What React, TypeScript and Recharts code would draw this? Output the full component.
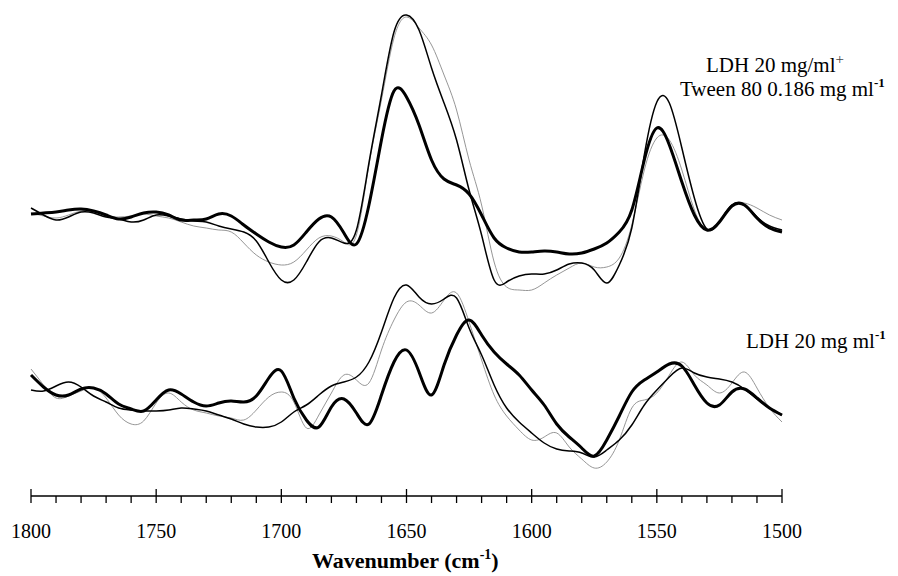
import { Line, LineChart, XAxis, YAxis } from "recharts";

// wavenumber grid (cm-1), high to low as plotted
const wavenumbers = [
  1800, 1795, 1790, 1785, 1780, 1775, 1770, 1765, 1760, 1755,
  1750, 1745, 1740, 1735, 1730, 1725, 1720, 1715, 1710, 1705,
  1700, 1695, 1690, 1685, 1680, 1675, 1670, 1665, 1660, 1655,
  1650, 1645, 1640, 1635, 1630, 1625, 1620, 1615, 1610, 1605,
  1600, 1595, 1590, 1585, 1580, 1575, 1570, 1565, 1560, 1555,
  1550, 1545, 1540, 1535, 1530, 1525, 1520, 1515, 1510, 1505,
  1500,
];

// LDH 20 mg/ml + Tween 80 0.186 mg/ml (upper stack), arbitrary units
const tweenThick = [
  1, 2, 3, 5, 6, 4, 0, -4, -2, 2,
  3, 0, -5, -5, -4, 1, -1, -10, -19, -27,
  -32, -30, -17, -4, -2, -18, -29, 10, 75, 124,
  118, 90, 55, 36, 30, 21, 0, -23, -33, -37,
  -37, -36, -37, -39, -38, -34, -28, -17, 5, 55,
  87, 70, 33, 0, -15, -7, 9, 10, -3, -13,
  -17,
];
const tweenThin = [
  7, 0, -5, -2, 3, 2, -2, -4, -7, -5,
  0, -1, -4, -6, -7, -11, -14, -17, -26, -47,
  -65, -65, -47, -27, -23, -28, -15, 52, 120, 183,
  200, 185, 147, 112, 75, 25, -20, -65, -67, -61,
  -59, -59, -55, -49, -48, -55, -68, -50, -13, 60,
  113, 112, 67, 17, -14, -7, 10, 10, -2, -11,
  -15,
];
const tweenFaint = [
  2, -1, -3, 0, 4, 4, -1, -2, -1, 1,
  -1, -3, -7, -11, -13, -15, -17, -28, -40, -47,
  -50, -47, -35, -23, -21, -27, -20, 50, 115, 177,
  198, 187, 170, 140, 105, 55, 10, -47, -72, -75,
  -75, -68, -60, -53, -48, -52, -52, -43, -10, 45,
  77, 75, 45, 5, -15, -5, 10, 12, 7, 0,
  -5,
];

// LDH 20 mg/ml (lower stack), arbitrary units
const ldhThick = [
  35, 23, 15, 15, 21, 22, 16, 6, 1, -1,
  10, 20, 16, 8, 4, 7, 9, 8, 14, 32,
  39, 12, -10, -17, 3, 11, -3, -14, 15, 48,
  60, 38, 15, 45, 75, 90, 75, 58, 46, 35,
  20, 5, -14, -27, -38, -46, -30, -6, 18, 30,
  38, 46, 44, 25, 7, 5, 18, 21, 12, 2,
  -5,
];
const ldhThin = [
  20, 19, 24, 28, 23, 14, 8, 2, 0, -1,
  -1, 0, 2, 1, -1, -5, -9, -14, -17, -17,
  -12, -2, 5, 15, 24, 28, 33, 48, 78, 112,
  125, 113, 106, 111, 112, 82, 55, 25, 2, -12,
  -23, -33, -39, -41, -43, -47, -40, -30, -15, 5,
  20, 33, 42, 37, 33, 31, 28, 21, 11, 2,
  -5,
];
const ldhFaint = [
  41, 25, 12, 14, 19, 22, 12, -5, -14, -11,
  7, 17, 8, 0, -3, -6, -8, -10, 0, 13,
  18, 8, -18, -5, 17, 35, 30, 27, 60, 90,
  108, 105, 97, 110, 117, 88, 50, 15, -6, -20,
  -30, -27, -23, -37, -49, -58, -52, -30, 2, 10,
  17, 35, 48, 35, 25, 17, 27, 38, 22, 2,
  -12,
];

const majorTicks = [1800, 1750, 1700, 1650, 1600, 1550, 1500];
const minorTicks = [
  1790, 1780, 1770, 1760, 1740, 1730, 1720, 1710, 1690, 1680,
  1670, 1660, 1640, 1630, 1620, 1610, 1590, 1580, 1570, 1560,
  1540, 1530, 1520, 1510,
];

const UPPER_OFFSET = 195;

const data = wavenumbers.map((w, i) => ({
  w,
  tweenThick: tweenThick[i] + UPPER_OFFSET,
  tweenThin: tweenThin[i] + UPPER_OFFSET,
  tweenFaint: tweenFaint[i] + UPPER_OFFSET,
  ldhThick: ldhThick[i],
  ldhThin: ldhThin[i],
  ldhFaint: ldhFaint[i],
}));

const serif = "Liberation Serif, serif";

function WavenumberTick(props: any) {
  const { x, y, payload } = props;
  const major = majorTicks.includes(payload.value);
  return (
    <g>
      <line
        x1={x}
        x2={x}
        y1={major ? y - 7 : y}
        y2={y + 7}
        stroke="#000"
        strokeWidth={1.3}
      />
      {major && (
        <text
          x={x}
          y={y + 42}
          textAnchor="middle"
          fill="#000"
          fontFamily={serif}
          fontSize={20}
        >
          {payload.value}
        </text>
      )}
    </g>
  );
}

export default function App() {
  return (
    <div
      style={{
        position: "absolute",
        left: 0,
        top: 0,
        width: 898,
        height: 576,
        background: "#fff",
        fontFamily: serif,
      }}
    >
      <LineChart width={898} height={576} data={data} margin={{ top: 0, right: 116, left: 31, bottom: 0 }}>
        <XAxis
          dataKey="w"
          type="number"
          domain={[1500, 1800]}
          reversed
          ticks={[...majorTicks, ...minorTicks].sort((a, b) => b - a)}
          interval={0}
          height={80}
          tickSize={0}
          tickMargin={0}
          tickLine={false}
          axisLine={{ stroke: "#000", strokeWidth: 1.5 }}
          tick={<WavenumberTick />}
        />
        <YAxis hide domain={[-86, 410]} allowDataOverflow />
        <Line type="natural" dataKey="tweenFaint" stroke="#8a8a8a" strokeWidth={0.9} dot={false} activeDot={false} isAnimationActive={false} />
        <Line type="natural" dataKey="tweenThin" stroke="#000" strokeWidth={1.5} dot={false} activeDot={false} isAnimationActive={false} />
        <Line type="natural" dataKey="tweenThick" stroke="#000" strokeWidth={3} dot={false} activeDot={false} isAnimationActive={false} />
        <Line type="natural" dataKey="ldhFaint" stroke="#8a8a8a" strokeWidth={0.9} dot={false} activeDot={false} isAnimationActive={false} />
        <Line type="natural" dataKey="ldhThin" stroke="#000" strokeWidth={1.5} dot={false} activeDot={false} isAnimationActive={false} />
        <Line type="natural" dataKey="ldhThick" stroke="#000" strokeWidth={3} dot={false} activeDot={false} isAnimationActive={false} />
      </LineChart>
      <svg
        width={898}
        height={576}
        style={{ position: "absolute", left: 0, top: 0, pointerEvents: "none" }}
        fontFamily={serif}
        fill="#000"
      >
        <text x={706} y={72} fontSize={21} fontFamily={serif}>
          LDH 20 mg/ml
          <tspan dy={-8} fontSize={15} fill="#444">+</tspan>
        </text>
        <text x={680} y={96} fontSize={21} fontFamily={serif}>
          Tween 80 0.186 mg ml
          <tspan dy={-9} fontSize={13} fontWeight="bold">-1</tspan>
        </text>
        <text x={746} y={348} fontSize={21} fontFamily={serif}>
          LDH 20 mg ml
          <tspan dy={-9} fontSize={13} fontWeight="bold">-1</tspan>
        </text>
        <text x={312} y={568} fontSize={22} fontWeight="bold" fontFamily={serif}>
          Wavenumber (cm
          <tspan dy={-9} fontSize={14}>-1</tspan>
          <tspan dy={9}>)</tspan>
        </text>
      </svg>
    </div>
  );
}
